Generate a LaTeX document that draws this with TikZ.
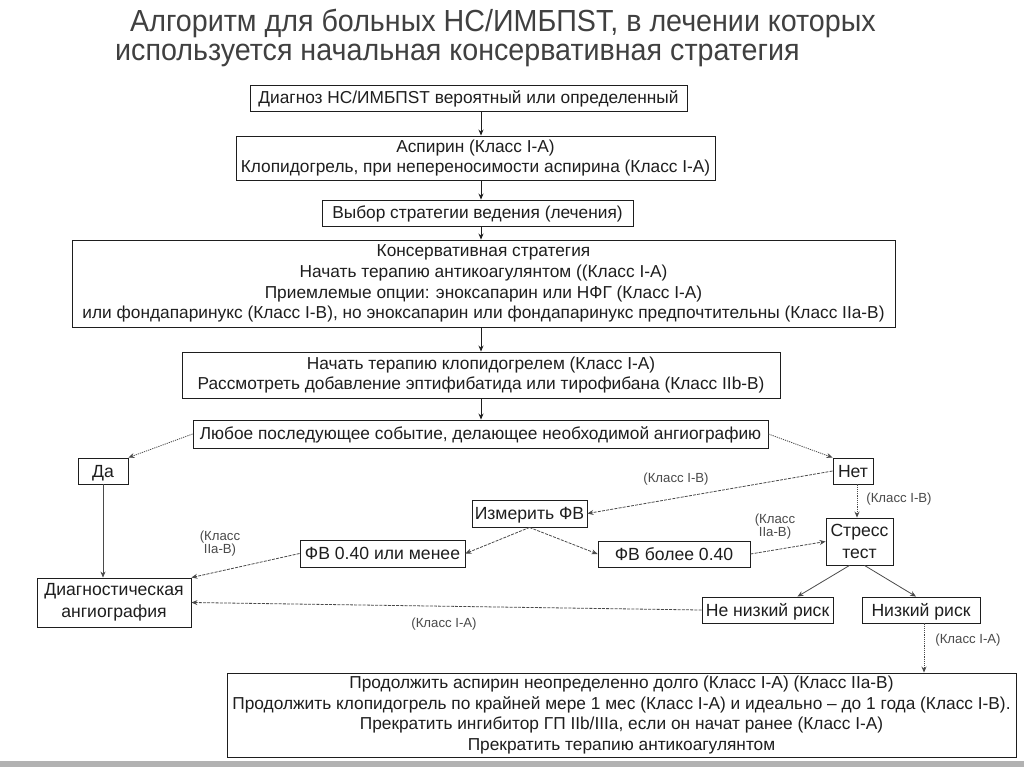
\documentclass[tikz,border=0pt]{standalone}
\usepackage{fontspec}
\setmainfont{Liberation Sans}
\newfontfamily\titlef{Liberation Sans}[FakeStretch=0.94]
\usetikzlibrary{arrows.meta}
\definecolor{ink}{HTML}{1E1E1E}
\definecolor{ln}{HTML}{4A4A4A}
\begin{document}
\begin{tikzpicture}[x=1pt,y=-1pt,
  box/.style={draw=ink,line width=0.9pt,inner sep=0pt,align=center,text=ink},
  sbox/.style={draw=ink,line width=0.9pt,inner sep=0pt,text=ink},
  bodyf/.style={font=\fontsize{17.3}{20.8}\selectfont},
  bigf/.style={font=\fontsize{17.6}{22}\selectfont},
  sbody/.style={sbox,bodyf,text height=12.4pt,text depth=0.6pt},
  sbig/.style={sbox,bigf,text height=12.6pt,text depth=0.6pt},
  smallf/.style={font=\fontsize{13.2}{14}\selectfont,text=ln,align=center,inner sep=0pt},
  arr/.style={-{Stealth[length=6pt,width=5pt]},line width=0.8pt,draw=ink},
  garr/.style={-{Stealth[length=6pt,width=5pt]},line width=0.8pt,draw=ln},
  dotarr/.style={garr,dash pattern=on 1.2pt off 1pt},
  dasharr/.style={garr,dash pattern=on 3pt off 1.2pt},
]
\useasboundingbox (0,0) rectangle (1024,767);
\fill[white] (0,0) rectangle (1024,767);
\fill[gray!60] (0,761) rectangle (1024,767);

% title
\node[anchor=north west,inner sep=0pt,align=left,text=ink!85,font=\titlef\fontsize{30.5}{29}\selectfont] (title) at (115,9)
  {\hspace*{15pt}Алгоритм для больных НС/ИМБПST, в лечении которых\\используется начальная консервативная стратегия};

\coordinate (col) at (481,0);
\coordinate (nx) at (857,0);
\coordinate (lx) at (924,0);

\node[sbody,minimum width=437pt,minimum height=26pt] (diag) at (468.5,98) {Диагноз НС/ИМБПST вероятный или определенный};
\node[box,bodyf,minimum width=479pt,minimum height=44pt] (asp) at (475.5,158) {Аспирин (Класс I-A)\\Клопидогрель, при непереносимости аспирина (Класс I-A)};
\node[sbody,minimum width=311pt,minimum height=26pt] (choice) at (477.5,213) {Выбор стратегии ведения (лечения)};
\node[box,bodyf,minimum width=823pt,minimum height=87pt] (cons) at (483.5,283.5) {Консервативная стратегия\\Начать терапию антикоагулянтом ((Класс I-A)\\Приемлемые опции: эноксапарин или НФГ (Класс I-A)\\или фондапаринукс (Класс I-B), но эноксапарин или фондапаринукс предпочтительны (Класс IIa-B)};
\node[box,bodyf,minimum width=598pt,minimum height=46pt] (clop) at (481,375) {Начать терапию клопидогрелем (Класс I-A)\\Рассмотреть добавление эптифибатида или тирофибана (Класс IIb-B)};
\node[sbody,minimum width=575pt,minimum height=28pt] (event) at (480.5,434) {Любое последующее событие, делающее необходимой ангиографию};

\node[sbig,minimum width=50pt,minimum height=26pt] (da) at (103,471) {Да};
\node[sbig,minimum width=40pt,minimum height=26pt] (net) at (853,471) {Нет};
\node[sbig,minimum width=115pt,minimum height=27pt] (izm) at (529.5,513.5) {Измерить ФВ};
\node[sbig,minimum width=165pt,minimum height=27pt] (fvle) at (382.5,553.5) {ФВ 0.40 или менее};
\node[sbig,minimum width=152pt,minimum height=26pt] (fvgt) at (674,554) {ФВ более 0.40};
\node[box,bigf,minimum width=67pt,minimum height=47pt] (stress) at (859.5,541.5) {Стресс\\тест};
\node[box,bigf,minimum width=154pt,minimum height=49pt] (angio) at (114,602.5) {Диагностическая\\ангиография};
\node[sbig,minimum width=131pt,minimum height=26pt] (nonlow) at (767.5,610) {Не низкий риск};
\node[sbig,minimum width=118pt,minimum height=26pt] (low) at (921,610) {Низкий риск};
\node[box,font=\fontsize{17.3}{20.6}\selectfont,minimum width=789pt,minimum height=84pt] (final) at (621.5,715) {Продолжить аспирин неопределенно долго (Класс I-A) (Класс IIa-B)\\Продолжить клопидогрель по крайней мере 1 мес (Класс I-A) и идеально – до 1 года (Класс I-B).\\Прекратить ингибитор ГП IIb/IIIa, если он начат ранее (Класс I-A)\\Прекратить терапию антикоагулянтом};

% labels
\node[smallf] (l1) at (676,479) {(Класс I-B)};
\node[smallf] (l2) at (899,499) {(Класс I-B)};
\node[smallf,font=\fontsize{13.2}{13}\selectfont] (l3) at (220,544) {(Класс\\IIa-B)};
\node[smallf,font=\fontsize{13.2}{13}\selectfont] (l4) at (775,527) {(Класс\\IIa-B)};
\node[smallf] (l5) at (444,624) {(Класс I-A)};
\node[smallf] (l6) at (968,640) {(Класс I-A)};

% top column arrows
\draw[arr] (diag.south -| col) -- (asp.north -| col);
\draw[arr] (asp.south -| col) -- (choice.north -| col);
\draw[arr] (choice.south -| col) -- (cons.north -| col);
\draw[arr] (cons.south -| col) -- (clop.north -| col);
\draw[arr] (clop.south -| col) -- (event.north -| col);

% lower connectors
\draw[dotarr] (event.west) -- (da.north east);
\draw[dotarr] (event.east) -- (net.north west);
\draw[garr,line width=0.6pt] (da.south) -- (da.south |- angio.north);
\draw[dasharr] (net.west) -- (izm.east);
\draw[dotarr] (net.south -| nx) -- (stress.north -| nx);
\draw[dasharr] (izm.south) -- (fvle.east);
\draw[dasharr] (izm.south) -- (fvgt.west);
\draw[dasharr] (fvle.west) -- (angio.north east);
\draw[dasharr] (fvgt.east) -- (stress.west);
\draw[garr] ([xshift=-10pt]stress.south) -- ([xshift=30pt]nonlow.north);
\draw[garr] ([xshift=5pt]stress.south) -- ([xshift=-5pt]low.north);
\draw[dasharr] (nonlow.west) -- (angio.east);
\draw[dotarr] (low.south -| lx) -- (final.north -| lx);
\end{tikzpicture}
\end{document}
